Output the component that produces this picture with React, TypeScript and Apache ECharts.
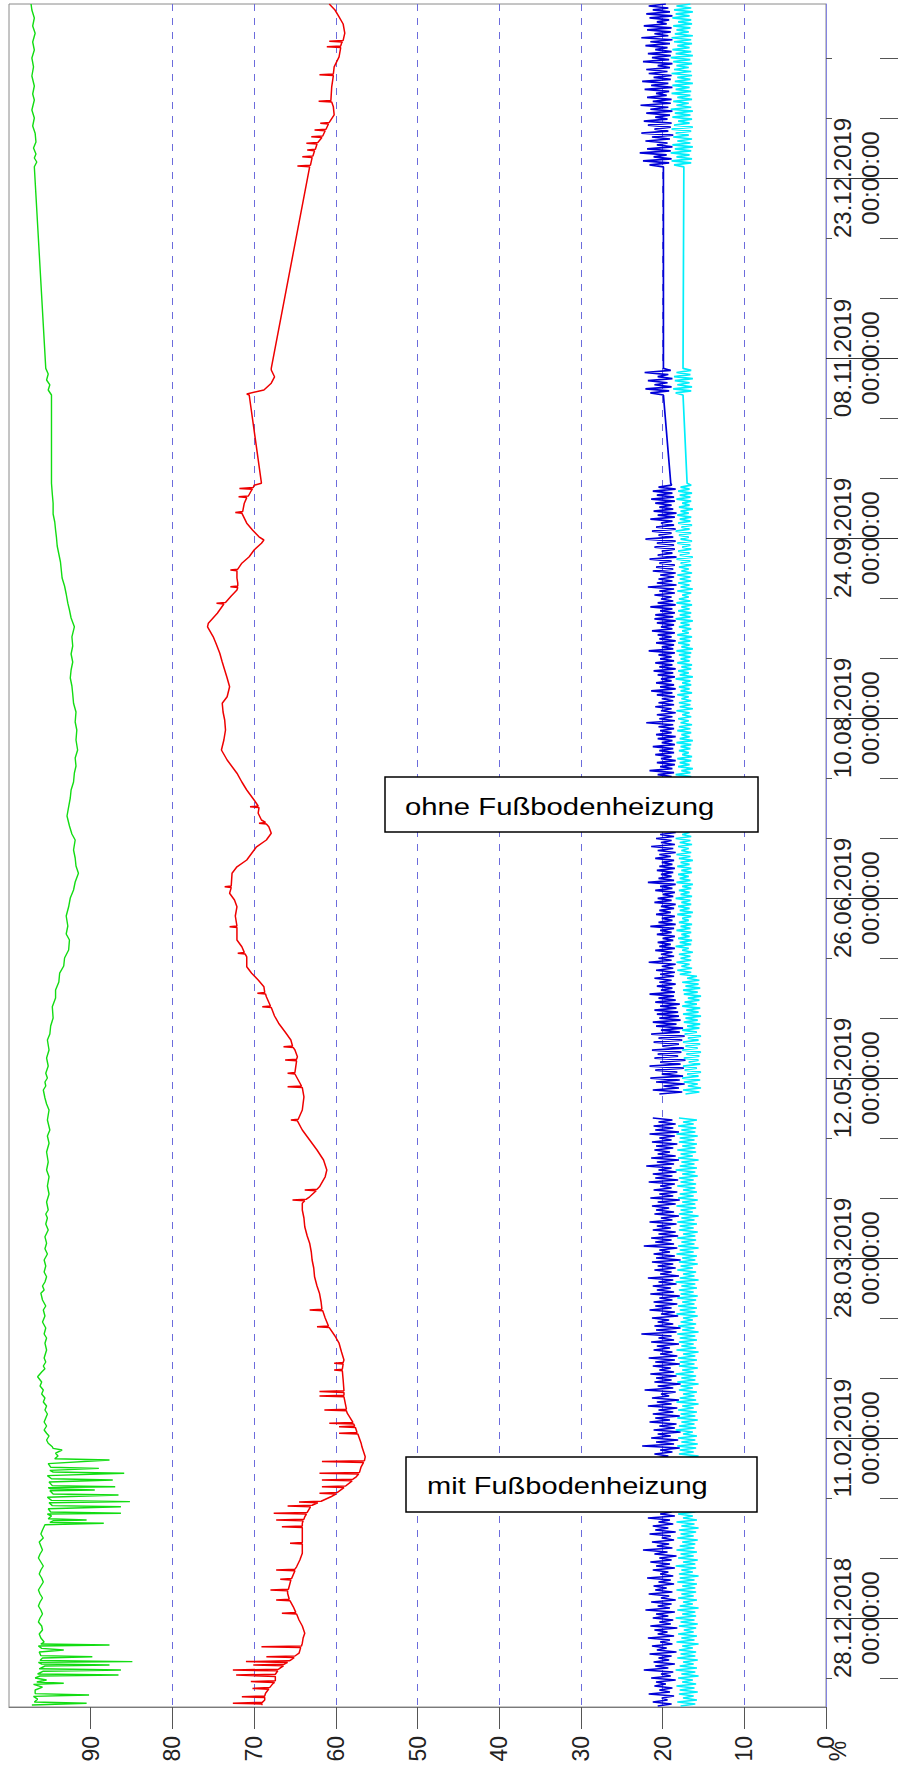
import React, { useEffect, useRef } from 'react';
import * as echarts from 'echarts';

// ---- time axis (days since 28.12.2018) ----
const T0 = Date.UTC(2018, 11, 28);
const DAY = 86400000;
const timeMin = -22.25;
const timeMax = 403.5;
const majorTicks = [0, 45, 90, 135, 180, 225, 270, 315, 360];
const minorTicks = [-15, 15, 30, 60, 75, 105, 120, 150, 165, 195, 210, 240, 255, 285, 300, 330, 345, 375, 390];
const valueTicks = [0, 10, 20, 30, 40, 50, 60, 70, 80, 90];

// ---- green series [day, %] ----
const green: number[][] = [
  [-21.75, 97.2], [-21.3, 90.5], [-21.0, 96.9], [-20.3, 96.5], [-19.6, 97.0], [-19.25, 90.2], [-18.9, 96.8], [-18.0, 96.8],
  [-17.3, 95.9], [-16.6, 97.0], [-16.3, 93.3], [-16.0, 96.6], [-15.5, 95.4], [-15.0, 96.8], [-14.5, 96.2], [-14.25, 86.6],
  [-14.0, 96.5], [-13.3, 95.8], [-13.0, 86.3], [-12.7, 96.3], [-12.0, 95.6], [-11.75, 87.7], [-11.5, 96.0], [-11.1, 96.4],
  [-10.9, 84.9], [-10.6, 96.2], [-10.0, 95.9], [-9.7, 89.8], [-9.4, 96.1], [-8.5, 96.3], [-8.0, 93.3], [-7.6, 96.0],
  [-7.0, 96.4], [-6.75, 87.7], [-6.5, 96.1], [-6.0, 95.7], [-5.0, 96.1], [-4.0, 96.3], [-3.0, 95.9], [-2.0, 96.0],
  [-1.0, 96.4], [0, 96.2], [1, 95.9], [2, 96.1], [3, 96.4], [4, 96.2], [5, 95.9], [6, 96.2], [7, 96.4], [8, 96.1],
  [9, 95.8], [10, 96.0], [11, 96.3], [12, 96.1], [13, 95.8], [14, 96.1], [15, 96.4], [16, 96.2], [17, 95.9], [18, 96.1],
  [19, 96.3], [20, 95.8], [21, 96.1], [22, 95.9], [23.3, 95.6],
  [23.7, 88.4], [23.9, 95.0], [24.3, 94.6], [24.5, 90.5], [24.8, 95.2], [25.5, 94.8], [26.0, 95.3], [26.2, 86.3],
  [26.5, 94.9], [27.3, 95.2], [27.8, 86.3], [28.1, 94.7], [28.8, 95.1], [29.1, 85.2], [29.4, 94.8], [30.2, 95.3],
  [30.75, 86.6], [31.0, 94.6], [31.8, 95.0], [32.0, 89.5], [32.3, 94.9], [32.6, 95.2], [32.8, 87.0], [33.1, 94.7],
  [34.0, 95.1], [34.5, 87.3], [34.8, 94.8], [35.6, 95.3], [36.2, 85.9], [36.5, 94.6], [36.9, 95.0], [37.4, 89.0],
  [37.7, 94.9], [38.6, 95.2], [39.5, 87.7], [39.8, 94.4], [40.5, 94.0], [41.2, 94.3], [42.0, 93.5], [42.4, 94.6],
  [42.8, 94.7], [43.7, 95.2], [44.5, 95.4], [45.5, 95.1], [46.2, 95.4], [47, 95.7], [48, 95.4], [49, 95.7], [50, 95.5],
  [51, 95.3], [52, 95.6], [53, 95.4], [54, 95.8], [55, 95.6], [56, 96.0], [57, 95.8], [58, 96.2], [59, 96.0], [60.3, 96.5],
  [61.5, 96.0], [62.3, 95.6], [63, 95.8], [64, 95.5], [65, 95.7], [67, 95.4], [68.7, 95.6], [70, 95.4], [71, 95.7],
  [72.5, 95.5], [74, 95.9], [75.5, 95.6], [77, 95.8], [78, 95.5], [79.5, 95.9], [81.2, 96.1], [82, 95.7], [83, 95.9],
  [84, 95.6], [85.3, 95.4], [86.5, 95.7], [88, 95.5], [89.5, 95.7], [91, 95.3], [92.3, 95.6], [93.7, 95.4], [95.3, 95.6],
  [97, 95.2], [98.5, 95.5], [100, 95.3], [101, 95.5], [102, 95.2], [104, 95.4], [106, 95.1], [108, 95.3], [110.3, 95.1],
  [112, 95.4], [114, 95.2], [116.5, 95.4], [118.7, 95.1], [120.5, 95.3], [122, 95.0], [124.5, 95.3], [127, 95.1],
  [128.5, 95.4], [130, 95.6], [132, 95.8], [133, 95.5], [134, 95.6], [135, 95.3], [136.2, 95.5], [138, 95.2], [140, 95.4],
  [142, 95.1], [144.5, 95.3], [146, 95.0], [148, 94.9], [150, 94.6], [152.8, 94.7], [155, 94.3], [157, 94.3], [159, 93.9],
  [161.2, 93.8], [163, 93.3], [165, 93.2], [167, 92.7], [169.5, 92.6], [171, 93.0], [173, 92.8], [175.5, 93.0],
  [177.8, 92.7], [180, 92.5], [182, 92.1], [184, 91.9], [186.2, 91.5], [188, 91.8], [190, 91.9], [192, 92.1], [194.5, 91.9],
  [196, 92.3], [198, 92.6], [200.5, 92.9], [202.8, 92.7], [205, 92.5], [207, 92.4], [209, 92.1], [211.2, 92.0],
  [213, 91.8], [215, 91.9], [217, 91.6], [219.5, 91.8], [222, 91.7], [224, 91.9], [226.5, 91.8], [228.7, 92.1],
  [231, 92.2], [233, 92.3], [235, 92.5], [237, 92.4], [239, 92.2], [241, 92.4], [243, 92.2], [245.3, 92.3], [247.8, 92.0],
  [250, 92.4], [252, 92.6], [253.7, 92.8], [256, 93.0], [258, 93.2], [260, 93.5], [262, 93.6], [264, 93.7], [266, 93.9],
  [268, 94.1], [270.3, 94.2], [272, 94.3], [274, 94.4], [276, 94.6], [278.7, 94.6], [281, 94.7], [283.7, 94.8],
  [305.75, 94.8], [307, 95.2], [308.3, 95.0], [309.5, 95.4], [311, 95.2], [312.4, 95.5], [362.8, 96.9], [364, 96.6],
  [365, 96.9], [366, 96.7], [367.5, 97.0], [369, 96.7], [371.2, 96.8], [373, 97.1], [375, 96.9], [377, 97.2], [379.5, 96.9],
  [381, 97.1], [383, 96.9], [385.5, 97.2], [387.8, 97.0], [390, 97.2], [392, 96.9], [394, 97.1], [396.2, 96.8], [398, 97.1],
  [400, 96.9], [402, 97.2], [403.5, 97.3],
];

// ---- red series [day, %] ----
const red: number[][] = [
  [-21.75, 69.1], [-21.5, 69.0], [-21.3, 72.6], [-21.1, 69.0], [-20.5, 68.7], [-19.9, 68.7], [-19.7, 71.5], [-19.5, 68.7],
  [-18.8, 68.6], [-18.0, 68.3], [-17.8, 68.2], [-17.6, 70.2], [-17.4, 68.1], [-16.4, 67.7], [-16.1, 67.5], [-15.9, 70.4],
  [-15.7, 67.4], [-14.6, 67.4], [-14.45, 67.4], [-14.25, 72.2], [-14.05, 67.4], [-13.2, 67.1], [-13.0, 72.6], [-12.8, 67.0],
  [-12.2, 66.6], [-11.95, 66.4], [-11.75, 70.1], [-11.55, 66.3], [-11.1, 65.9], [-10.9, 71.0], [-10.7, 65.7], [-10.5, 65.5],
  [-9.9, 65.1], [-9.7, 68.5], [-9.5, 65.0], [-8.8, 64.5], [-7.4, 64.3], [-7.2, 69.1], [-7.0, 64.2], [-6.3, 64.1],
  [-5.0, 64.0], [-3.8, 63.8], [-2.0, 64.1], [-0.5, 64.5], [1.0, 64.8], [1.2, 66.6], [1.4, 64.9], [2.8, 65.2], [4.3, 65.6],
  [4.5, 67.3], [4.7, 65.7], [6.2, 65.9], [6.8, 65.9], [7.0, 68.0], [7.2, 65.8], [9.5, 65.5], [9.7, 66.8], [9.9, 65.4],
  [11.8, 65.0], [12.0, 67.3], [12.2, 65.0], [12.8, 64.8], [14.5, 64.4], [16.2, 64.1], [18.5, 64.1], [18.7, 65.6],
  [18.9, 64.1], [20.3, 64.1], [22.6, 64.1], [22.8, 66.6], [23.0, 64.1], [23.7, 64.1], [24.3, 64.0], [24.5, 67.3],
  [24.7, 63.9], [25.3, 63.8], [26.0, 63.6], [26.2, 67.6], [26.4, 63.5], [27.8, 63.1], [28.0, 65.9], [28.2, 62.9],
  [28.8, 62.2], [29.0, 64.5], [29.2, 61.8], [30.3, 60.6], [31.0, 60.0], [31.2, 62.0], [31.4, 59.8], [32.6, 59.0],
  [32.8, 61.7], [33.0, 58.8], [34.3, 58.0], [34.5, 61.7], [34.7, 57.9], [35.3, 57.5], [36.0, 57.2], [36.2, 62.0],
  [36.4, 57.1], [37.8, 56.9], [38.9, 56.6], [39.1, 61.7], [39.3, 56.5], [40.3, 56.4], [42.8, 56.8], [43.7, 56.9],
  [46.0, 57.3], [46.2, 59.6], [46.4, 57.4], [47.6, 57.6], [47.8, 59.6], [48.0, 57.7], [48.5, 57.8], [48.7, 60.8],
  [48.9, 57.9], [51.2, 58.6], [51.8, 58.7], [52.0, 61.4], [52.2, 58.7], [55.3, 59.0], [55.5, 62.0], [55.7, 59.0],
  [56.4, 59.0], [56.6, 62.0], [56.8, 59.0], [59.5, 59.1], [61.8, 59.2], [62.0, 60.2], [62.2, 59.2], [63.5, 59.1],
  [63.7, 60.2], [63.9, 59.1], [64.5, 59.0], [66.5, 59.3], [68.7, 59.6], [70.5, 60.1], [72.6, 60.8], [72.8, 62.3],
  [73.0, 60.9], [75, 61.3], [76.8, 61.6], [77.0, 63.2], [77.2, 61.7], [79, 61.8], [81.2, 62.0], [83, 62.3], [85.3, 62.6],
  [87.5, 62.7], [89.5, 62.9], [91.5, 63.0], [93.7, 63.2], [95.5, 63.5], [97.8, 63.8], [100, 63.9], [102, 64.1],
  [103.7, 64.1], [104.3, 63.8], [104.5, 65.3], [104.7, 63.6], [105.3, 63.2], [106.8, 62.4], [107.0, 63.8], [107.2, 62.3],
  [107.8, 62.0], [110.3, 61.3], [112, 61.1], [114.5, 61.5], [117, 62.3], [119.5, 63.2], [122, 64.1], [124.3, 64.7],
  [124.5, 65.5], [124.7, 64.6], [127, 64.1], [130.3, 63.9], [132.6, 64.1], [132.8, 65.9], [133.0, 64.2], [136.0, 65.0],
  [136.2, 65.9], [136.4, 65.0], [139.3, 64.8], [139.5, 66.2], [139.7, 64.8], [140.3, 64.7], [142.0, 65.0], [142.6, 65.2],
  [142.8, 66.4], [143.0, 65.3], [144.5, 65.5], [146.5, 66.2], [148.7, 67.0], [150.5, 67.5], [152.6, 67.9], [152.8, 69.0],
  [153.0, 68.0], [155.3, 68.5], [156.0, 68.6], [156.2, 69.6], [156.4, 68.7], [157.8, 68.8], [159.5, 69.5], [161.2, 70.3],
  [162.8, 70.9], [165.3, 70.9], [166.0, 71.1], [166.2, 72.0], [166.4, 71.2], [167.8, 71.5], [169.5, 72.1], [172.6, 72.1],
  [172.8, 73.0], [173.0, 72.1], [175.5, 72.3], [177.8, 72.1], [179.5, 72.4], [181.2, 73.0], [182.6, 72.8], [182.8, 73.6],
  [183.0, 72.8], [186.2, 72.7], [187.8, 72.1], [189.5, 70.9], [192.8, 69.7], [194.5, 68.5], [196.2, 67.9], [197.8, 68.2],
  [198.5, 68.5], [198.7, 69.4], [198.9, 68.6], [199.5, 69.1], [201.2, 69.5], [202.6, 69.4], [202.8, 70.5], [203.0, 69.5],
  [204.5, 70.0], [207, 70.9], [209, 71.5], [211.2, 72.1], [214.5, 73.3], [217, 74.0], [219.5, 73.7], [222, 73.5],
  [224.5, 73.6], [226.5, 73.8], [228.7, 73.9], [230.3, 73.3], [232.8, 73.0], [235, 73.3], [237, 73.6], [239, 73.9],
  [241.2, 74.2], [243.3, 74.6], [245.3, 75.0], [247.8, 75.7], [248.7, 75.6], [251.2, 74.5], [253.5, 73.7], [253.7, 74.6],
  [253.9, 73.5], [255.5, 72.8], [257.0, 72.1], [257.6, 72.0], [257.8, 72.9], [258.0, 72.0], [258.7, 72.0], [260, 72.1],
  [261.8, 72.1], [262.0, 72.9], [262.2, 72.0], [263.7, 71.5], [265.3, 70.6], [267, 70.0], [268.7, 69.1], [269.5, 68.8],
  [270.3, 69.4], [272, 70.2], [273.7, 70.9], [276.2, 71.5], [276.4, 72.3], [276.6, 71.4], [278.7, 71.2], [280.1, 70.9],
  [280.3, 71.9], [280.5, 70.7], [282, 70.3], [282.2, 70.2], [282.4, 71.8], [282.6, 70.1], [283.2, 70.0], [283.7, 69.1],
  [305.75, 70.6], [306.0, 70.9], [307, 68.8], [308.7, 67.9], [310.3, 67.5], [312, 67.9], [312.4, 67.9],
  [362.8, 63.2], [363.0, 64.7], [363.2, 63.1], [365.1, 62.9], [365.3, 64.1], [365.5, 62.8], [366.8, 62.6], [367.0, 63.5],
  [367.2, 62.5], [368.5, 62.3], [368.7, 63.6], [368.9, 62.2], [370.1, 61.7], [370.3, 63.0], [370.5, 61.6], [371.8, 61.3],
  [372.0, 62.6], [372.2, 61.2], [373.5, 60.9], [373.7, 61.9], [373.9, 60.8], [375.8, 60.2], [377.8, 60.3], [379.0, 60.5],
  [379.2, 62.1], [379.4, 60.6], [382.8, 60.5], [385.6, 60.3], [385.8, 62.0], [386.0, 60.3], [387.8, 60.2], [390.3, 59.6],
  [392.6, 59.4], [392.8, 61.1], [393.0, 59.4], [393.7, 59.3], [394.0, 59.2], [394.2, 60.8], [394.4, 59.1], [396.2, 58.9],
  [398.5, 59.1], [400.3, 59.6], [402, 60.1], [403.5, 60.8],
];

// ---- blue series: measured segments (first day, last day, values in time order) ----
const blue1Span = [-22, 125];
const blue1 = [
  20.6,18.9,21.2,19.4,20.1,18.6,21.7,19.1,20.4,18.8,21.0,19.6,20.8,18.4,21.4,19.0,20.2,18.7,22.3,19.3,
  20.9,18.5,21.1,19.2,20.5,18.9,21.6,18.3,20.7,19.5,21.3,18.8,20.3,19.1,21.8,18.6,20.6,19.4,21.0,18.2,
  21.5,19.0,20.4,18.7,21.2,19.3,20.8,18.5,22.1,19.1,20.6,18.9,21.4,18.4,20.2,19.2,21.7,18.8,20.9,19.5,
  21.1,18.6,20.5,19.0,21.9,18.7,20.3,19.3,21.2,18.5,20.8,19.1,21.5,18.9,20.4,18.3,21.0,19.4,22.4,18.8,
  20.7,19.2,21.3,18.6,20.1,19.0,21.6,18.4,20.9,19.3,21.2,18.7,20.5,19.1,21.8,18.5,20.3,18.9,21.4,19.2,
  20.8,18.4,21.1,19.5,20.4,18.8,21.7,19.0,20.6,18.3,21.3,19.2,20.2,18.7,22.0,19.1,20.9,18.6,21.5,19.4,
  20.5,18.9,21.2,18.2,20.7,19.3,21.0,18.8,20.3,17.9,22.5,18.6,20.8,18.1,21.4,19.0,20.6,17.8,21.1,18.5,
  20.4,18.3,21.6,19.1,20.9,17.9,21.2,18.7,20.5,18.2,21.8,18.9,20.7,18.0,21.3,19.2,20.2,18.4,22.2,18.7,
  20.6,17.8,21.0,18.9,20.8,18.3,21.5,18.6,20.4,19.0,21.2,17.9,20.9,18.5,21.7,18.2,20.3,18.8,21.1,19.1,
  20.7,18.0,21.4,18.6,20.5,18.9,22.6,18.3,20.8,17.8,21.0,18.7,20.6,19.2,21.3,18.1,20.2,18.5,21.6,18.9,
  20.9,18.2,21.1,18.8,20.4,17.9,21.5,18.6,20.7,19.0,21.2,18.3,20.5,18.7,21.8,18.0,20.3,18.9,21.0,18.4,
  20.6,18.7,21.3,17.8,20.8,18.5,21.1,19.1,20.4,18.2,22.3,18.6,20.9,18.9,21.4,18.1,20.5,18.4,21.2,19.0,
  20.7,18.3,21.6,18.8,20.2,18.0,21.0,18.6,20.8,19.2,21.3,18.4,20.6,17.9,21.5,18.7,20.4,18.2,21.1,18.9,
  20.3,18.5,21.7,18.1,20.9,18.8,21.2,18.3,20.5,18.9,22.0,18.6,20.7,18.0,21.4,18.4,20.6,19.1,21.0,18.7,
  20.8,18.2,21.3,18.9,20.4,18.5,21.6,18.0,20.9,18.7,21.1,18.4,20.5,18.8,21.2,
];
const blue2Span = [131, 283.7];
const blue2 = [
  20.4,17.6,21.2,18.0,19.9,17.3,20.8,17.9,21.5,17.5,20.1,18.2,20.9,17.4,21.6,17.8,20.3,17.2,21.0,18.1,
  20.6,17.7,21.3,17.4,20.0,18.0,21.1,17.6,20.5,17.3,21.4,17.9,20.2,17.5,20.8,18.3,21.2,17.8,20.4,18.0,
  20.7,18.1,21.0,18.3,20.3,17.9,20.9,18.4,20.5,18.6,21.6,18.5,20.2,18.8,20.7,18.4,20.4,18.9,21.0,18.6,
  20.3,18.5,20.8,18.7,20.1,18.4,21.7,18.9,20.5,18.6,20.2,18.8,20.9,18.5,20.4,19.0,20.6,18.7,20.0,18.5,
  20.7,18.9,20.3,18.6,21.5,18.4,20.5,18.8,20.1,18.5,20.8,19.0,20.4,18.6,20.2,18.4,21.0,18.9,20.6,18.7,
  20.0,18.5,20.9,18.8,20.3,18.4,21.8,18.6,20.5,18.9,20.2,18.7,20.7,18.5,20.4,18.8,20.1,18.6,20.9,19.0,
  20.4,18.4,20.6,18.7,21.4,18.5,20.2,18.9,20.8,18.6,20.3,18.4,20.5,18.8,20.0,18.6,21.9,18.5,20.6,18.9,
  20.3,18.7,20.8,18.5,20.1,18.9,20.7,18.4,20.4,18.6,21.3,18.8,20.2,18.5,20.9,18.7,20.5,18.4,20.0,18.9,
  20.6,18.6,21.6,18.8,20.3,18.5,20.7,18.4,20.2,18.9,20.9,18.6,20.4,18.7,21.2,18.5,20.1,18.8,20.6,18.4,
  20.8,18.9,20.3,18.6,20.5,18.7,22.0,18.5,20.4,18.8,20.7,18.4,20.2,18.9,20.9,18.6,20.5,18.7,20.1,18.5,
  20.7,18.8,21.4,18.4,20.3,18.6,20.8,18.9,20.2,18.5,20.6,18.7,21.1,18.4,20.4,18.8,20.9,18.6,20.3,18.9,
  20.5,18.5,21.7,18.7,20.1,18.6,20.8,18.4,20.4,18.9,20.6,18.5,21.3,18.8,20.2,18.6,20.7,18.4,21.0,18.7,
  20.9,18.5,20.3,18.8,21.5,18.4,20.6,18.7,20.2,18.9,21.0,18.5,20.4,18.6,21.8,18.3,20.7,18.8,20.5,18.6,
  20.3,18.4,21.2,18.7,20.8,18.5,20.4,18.9,21.6,18.3,20.6,18.8,20.1,18.5,21.0,18.6,20.7,18.4,22.1,18.7,
  20.5,18.9,21.3,18.4,20.8,18.6,20.2,18.8,21.5,18.5,20.6,18.3,21.1,18.7,20.4,18.9,20.9,18.5,21.4,18.6,
  20.7,18.8,21.2,18.4,20.5,18.9,19.0,
];
const blue3Span = [305.75, 312.4];
const blue3 = [19.9,21.5,19.2,22.1,18.9,21.0,19.4,21.8,18.8,20.6,19.3,22.2,19.0,19.9];
const blue4Span = [362.8, 403.5];
const blue4 = [
  19.9,21.6,19.2,22.4,18.9,21.1,19.5,22.8,19.0,21.9,18.8,20.7,19.4,22.1,19.1,21.3,18.7,22.6,19.3,21.0,
  19.0,21.8,18.9,22.3,19.4,20.9,19.1,22.0,18.8,21.5,19.3,22.7,19.0,21.2,18.9,21.9,19.5,20.8,19.2,22.2,
  18.8,21.4,19.3,22.5,19.0,21.1,18.9,21.7,19.4,22.0,19.1,20.6,18.8,22.4,19.2,21.3,19.0,21.8,18.9,20.9,
  19.4,22.1,19.1,21.5,18.8,22.6,19.3,21.0,19.0,21.9,18.9,22.3,19.5,20.7,19.2,21.6,18.8,22.0,19.1,21.2,
  19.3,21.7,19.6,
];

// ---- cyan series: measured segments ----
const cyan1Span = [-22, 125];
const cyan1 = [
  17.8,16.0,18.2,15.8,17.5,16.2,18.0,15.7,17.9,16.1,18.3,15.9,17.6,16.3,18.1,15.6,17.7,16.0,18.4,15.8,
  17.9,16.2,17.5,15.7,18.2,16.0,17.8,15.9,18.0,16.3,17.6,15.6,18.3,16.1,17.7,15.8,18.1,16.2,17.4,15.9,
  18.0,15.7,17.8,16.1,18.4,15.9,17.6,16.0,18.2,15.6,17.9,16.3,17.5,15.8,18.1,16.2,17.7,15.9,18.3,16.0,
  17.6,15.8,18.2,16.1,17.9,15.6,18.0,16.3,17.7,15.9,18.4,16.0,17.5,15.7,18.1,16.2,17.8,15.8,18.3,16.1,
  17.9,16.0,17.6,15.7,18.2,16.2,17.8,15.9,18.0,15.6,17.7,16.1,18.3,15.8,17.5,16.3,18.1,16.0,17.9,15.7,
  18.2,15.9,17.6,16.2,18.0,15.8,17.8,16.0,18.4,15.6,17.7,16.1,18.1,15.9,17.5,16.3,18.2,15.7,17.9,16.0,
  17.8,15.8,18.3,16.1,17.6,15.6,18.0,16.2,17.9,15.9,18.2,15.7,17.7,16.0,18.1,15.8,17.5,16.3,18.4,15.9,
  18.0,16.1,17.7,15.7,18.2,16.0,17.8,15.8,18.1,16.2,17.6,15.6,18.3,15.9,17.9,16.1,17.5,15.8,18.0,16.3,
  17.8,15.6,18.2,16.0,17.7,15.9,18.4,16.2,17.6,15.7,18.0,16.1,17.9,15.8,18.1,16.0,17.5,15.6,18.3,15.9,
  17.7,16.2,18.0,15.8,17.9,16.0,18.2,15.6,17.6,16.1,18.1,15.9,17.8,16.3,17.5,15.7,18.3,16.0,17.9,15.8,
  18.1,16.1,17.6,15.9,18.2,15.7,17.8,16.2,18.0,15.8,17.7,16.0,18.4,15.6,17.9,16.1,17.5,15.9,18.2,16.3,
  17.8,15.7,18.0,16.0,17.6,15.8,18.3,16.2,17.9,15.6,18.1,16.1,17.7,15.9,18.2,16.0,17.5,15.7,18.0,16.2,
  17.9,15.8,18.2,16.1,17.7,15.6,18.0,16.3,17.8,15.9,18.3,16.0,17.6,15.7,18.1,16.2,17.9,15.8,17.5,16.0,
  18.2,15.9,17.8,16.2,18.0,15.7,17.6,16.0,18.4,15.8,17.9,16.1,17.7,15.6,18.1,16.3,17.8,15.9,18.2,16.0,
  17.6,15.8,18.0,16.1,17.9,15.7,18.3,16.0,17.7,15.9,18.1,16.2,17.5,15.8,18.0,
];
const cyan2Span = [131, 283.7];
const cyan2 = [
  17.2,15.5,17.5,15.3,16.9,15.7,17.4,15.4,17.6,15.6,17.0,15.3,17.3,15.8,17.5,15.4,16.8,15.6,17.4,15.5,
  17.1,15.3,17.6,15.7,17.2,15.4,17.5,15.6,16.9,15.3,17.3,15.8,17.6,15.5,17.0,15.4,17.4,15.7,17.2,15.3,
  17.5,15.6,17.1,15.4,17.6,15.8,17.3,15.5,16.9,15.3,17.4,15.7,17.5,15.4,17.2,15.6,17.6,15.5,17.0,15.8,
  17.9,16.5,18.2,16.4,17.7,16.7,18.3,16.5,17.8,16.6,18.0,16.3,17.6,16.8,18.4,16.5,17.9,16.4,18.1,16.7,
  17.7,16.5,18.3,16.6,17.8,16.4,18.0,16.8,17.6,16.5,18.2,16.3,17.9,16.7,18.1,16.5,17.7,16.6,18.4,16.4,
  17.8,16.7,18.0,16.5,17.6,16.3,18.3,16.6,17.9,16.8,18.1,16.4,17.7,16.5,18.2,16.7,17.8,16.3,18.0,16.6,
  18.3,16.5,17.7,16.8,18.1,16.4,17.9,16.6,18.4,16.5,17.6,16.7,18.0,16.3,17.8,16.6,18.2,16.5,17.7,16.8,
  18.0,16.4,17.8,16.7,18.3,16.5,17.6,16.6,18.1,16.3,17.9,16.8,18.2,16.5,17.7,16.4,18.0,16.7,17.8,16.5,
  18.4,16.6,17.7,16.3,18.1,16.7,17.9,16.5,18.2,16.4,17.6,16.8,18.0,16.6,17.8,16.5,18.3,16.3,17.9,16.7,
  17.7,16.5,18.2,16.6,18.0,16.4,17.8,16.8,18.1,16.5,17.6,16.7,18.3,16.3,17.9,16.6,18.0,16.5,17.7,16.8,
  18.2,16.4,17.8,16.7,18.0,16.5,17.6,16.6,18.4,16.3,17.9,16.8,18.1,16.5,17.7,16.4,18.2,16.7,17.8,16.6,
  18.0,16.5,18.3,16.3,17.7,16.7,18.1,16.6,17.9,16.4,18.2,16.8,17.6,16.5,18.0,16.7,17.8,16.3,18.4,16.6,
  17.9,16.5,18.1,16.7,17.7,16.4,18.3,16.6,18.0,16.8,17.6,16.5,18.2,16.3,17.8,16.7,18.1,16.5,17.9,16.6,
  18.2,16.4,17.7,16.8,18.0,16.5,17.8,16.6,18.3,16.3,17.9,16.7,18.1,16.5,17.6,16.6,18.2,16.4,17.8,16.8,
  18.0,16.5,18.4,16.7,17.7,16.4,18.1,16.6,17.9,16.5,18.2,16.8,17.8,16.3,18.0,16.7,17.6,16.5,18.3,16.6,
  17.9,16.4,18.1,16.7,17.8,16.5,17.0,
];
const cyan3Span = [305.75, 312.4];
const cyan3 = [17.5,18.4,16.5,18.7,16.4,18.2,16.7,18.5,16.3,18.6,16.6,18.3,16.5,17.5];
const cyan4Span = [362.8, 403.5];
const cyan4 = [
  17.4,18.6,16.5,18.9,16.4,18.3,16.7,19.0,16.5,18.5,16.3,18.8,16.6,18.2,16.4,18.7,16.8,18.4,16.5,18.9,
  16.3,18.6,16.7,18.1,16.4,18.8,16.6,18.5,16.3,19.0,16.5,18.3,16.8,18.7,16.4,18.2,16.6,18.9,16.5,18.4,
  16.7,18.8,16.3,18.5,16.6,18.2,16.4,18.9,16.5,18.6,16.8,18.3,16.4,18.7,16.6,19.0,16.3,18.4,16.5,18.8,
  16.7,18.2,16.4,18.6,16.5,18.9,16.3,18.5,16.8,18.3,16.6,18.7,16.4,18.1,16.5,18.8,16.7,18.4,16.3,18.6,
  16.5,18.3,16.6,
];

const labelMit = 'mit Fußbodenheizung';
const labelOhne = 'ohne Fußbodenheizung';

const FONT = '"Liberation Sans", Arial, Helvetica, sans-serif';

function segment(vals: number[], span: number[]): (number | string)[][] {
  const n = vals.length;
  return vals.map((v, i) => [v, span[0] + (i * (span[1] - span[0])) / (n - 1)]);
}
const GAP: (number | string)[] = ['-', '-'];

function fmtDate(d: number): string {
  const t = new Date(T0 + d * DAY);
  const dd = String(t.getUTCDate()).padStart(2, '0');
  const mm = String(t.getUTCMonth() + 1).padStart(2, '0');
  return dd + '.' + mm + '.' + t.getUTCFullYear() + '\n00:00:00';
}

export default function App() {
  const ref = useRef<HTMLDivElement>(null);
  useEffect(() => {
    document.body.style.margin = '0';
    if (!ref.current) return;
    const chart = echarts.init(ref.current, null, { renderer: 'svg' });

    const greenData = green.map((p) => [p[1], p[0]]);
    const redData = red.map((p) => [p[1], p[0]]);
    const blueData = [
      ...segment(blue1, blue1Span), GAP, ...segment(blue2, blue2Span),
      ...segment(blue3, blue3Span), ...segment(blue4, blue4Span),
    ];
    const cyanData = [
      ...segment(cyan1, cyan1Span), GAP, ...segment(cyan2, cyan2Span),
      ...segment(cyan3, cyan3Span), ...segment(cyan4, cyan4Span),
    ];

    const tickAxisBase = {
      type: 'value', min: timeMin, max: timeMax, position: 'right',
      axisLine: { show: false, onZero: false },
      axisLabel: { show: false }, splitLine: { show: false },
    };

    const lineSeries = (name: string, data: any[], color: string, width: number, z: number) => ({
      name, type: 'line', data, xAxisIndex: 0, yAxisIndex: 0,
      showSymbol: false, symbol: 'none', silent: true, z,
      lineStyle: { color, width }, emphasis: { disabled: true },
    });

    chart.setOption({
      animation: false,
      backgroundColor: '#ffffff',
      grid: { left: 9, right: 76, top: 4, bottom: 64, show: true, borderColor: '#8a8a8a', borderWidth: 1 },
      xAxis: {
        type: 'value', inverse: true, min: 0, max: 100, interval: 10, position: 'bottom',
        axisLine: { show: true, onZero: false, lineStyle: { color: '#7a7a7a', width: 1 } },
        axisTick: { show: true, length: 22, customValues: valueTicks, lineStyle: { color: '#555555' } },
        axisLabel: {
          show: true, rotate: 90, margin: 29, fontSize: 23, color: '#222222', fontFamily: FONT,
          customValues: valueTicks, formatter: (v: number) => String(v),
        },
        splitLine: {
          show: true, showMinLine: false, showMaxLine: false,
          lineStyle: { color: '#6c6cdc', type: [7, 7], width: 1 },
        },
      },
      yAxis: [
        {
          type: 'value', min: timeMin, max: timeMax, position: 'right',
          axisLine: { show: true, onZero: false, lineStyle: { color: '#8484e2', width: 1 } },
          axisTick: { show: true, length: 72, customValues: majorTicks, lineStyle: { color: '#333333' } },
          axisLabel: {
            show: true, rotate: 90, margin: 2, fontSize: 24, lineHeight: 28, color: '#222222',
            fontFamily: FONT, customValues: majorTicks, formatter: fmtDate,
          },
          splitLine: { show: false },
        },
        { ...tickAxisBase, offset: 0, axisTick: { show: true, length: 6, customValues: minorTicks, lineStyle: { color: '#555555' } } },
        { ...tickAxisBase, offset: 54, axisTick: { show: true, length: 18, customValues: minorTicks, lineStyle: { color: '#555555' } } },
      ],
      series: [
        lineSeries('green', greenData, '#12dc12', 1.4, 2),
        lineSeries('red', redData, '#ee0000', 1.5, 3),
        lineSeries('blue', blueData, '#0000d8', 1.7, 4),
        lineSeries('cyan', cyanData, '#00eefa', 1.7, 5),
      ],
      graphic: [
        {
          type: 'text', x: 838, y: 1751, rotation: Math.PI / 2, z: 100,
          style: { text: '%', fontSize: 23, fontFamily: FONT, fill: '#222222', align: 'center', verticalAlign: 'middle' },
        },
        {
          type: 'rect', z: 100, shape: { x: 385, y: 777, width: 373, height: 55 },
          style: { fill: '#ffffff', stroke: '#000000', lineWidth: 1.5 },
        },
        {
          type: 'text', x: 405, y: 807, scaleX: 1.22, z: 101,
          style: { text: labelOhne, fontSize: 24, fontFamily: FONT, fill: '#000000', align: 'left', verticalAlign: 'middle' },
        },
        {
          type: 'rect', z: 100, shape: { x: 406, y: 1457, width: 351, height: 55 },
          style: { fill: '#ffffff', stroke: '#000000', lineWidth: 1.5 },
        },
        {
          type: 'text', x: 427, y: 1486, scaleX: 1.21, z: 101,
          style: { text: labelMit, fontSize: 24, fontFamily: FONT, fill: '#000000', align: 'left', verticalAlign: 'middle' },
        },
      ],
    });
    return () => chart.dispose();
  }, []);
  return (
    <div
      ref={ref}
      style={{ position: 'absolute', left: 0, top: 0, width: 902, height: 1771, background: '#fff' }}
    />
  );
}
